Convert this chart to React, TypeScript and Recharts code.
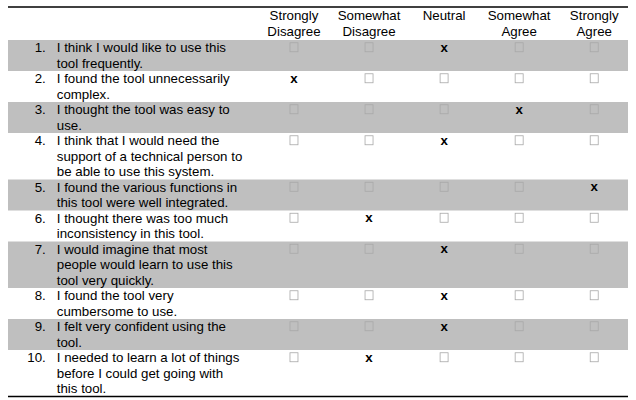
import React from "react";
import { ScatterChart, Scatter, XAxis, YAxis, ReferenceArea, ReferenceLine } from "recharts";

const responses = [["Strongly", "Disagree"], ["Somewhat", "Disagree"], ["Neutral"], ["Somewhat", "Agree"], ["Strongly", "Agree"]];
const questions = [
  ["I think I would like to use this", "tool frequently."],
  ["I found the tool unnecessarily", "complex."],
  ["I thought the tool was easy to", "use."],
  ["I think that I would need the", "support of a technical person to", "be able to use this system."],
  ["I found the various functions in", "this tool were well integrated."],
  ["I thought there was too much", "inconsistency in this tool."],
  ["I would imagine that most", "people would learn to use this", "tool very quickly."],
  ["I found the tool very", "cumbersome to use."],
  ["I felt very confident using the", "tool."],
  ["I needed to learn a lot of things", "before I could get going with", "this tool."],
];
const answers = [2, 0, 3, 2, 4, 1, 2, 2, 2, 1];

const starts: number[] = [];
let acc = 0;
questions.forEach((q) => { starts.push(acc); acc += q.length; });
const totalLines = acc;

const X_MIN = -3.81, X_MAX = 4.45, Y_MIN = -2.13;
const FONT = "'Liberation Sans', Arial, sans-serif";
const FS = 13.3;
const LH = 15.5;

const marks = questions.flatMap((_, qi) => responses.map((_, ci) => ({ x: ci, y: starts[qi] + 0.5, checked: answers[qi] === ci })));
const qData = questions.map((lines, qi) => ({ x: -3.307, y: starts[qi], lines, num: `${qi + 1}.` }));
const hData = responses.map((lines, ci) => ({ x: ci, y: Y_MIN, lines }));

const MarkShape = (p: any) => p.payload.checked
  ? <text x={p.cx} y={p.cy + 4} textAnchor="middle" fontFamily={FONT} fontSize={FS} fontWeight="bold" fill="#000">x</text>
  : <rect x={p.cx - 4} y={p.cy - 5} width={8} height={9} fill="none" stroke="#a8a8a8" strokeWidth={0.8} />;

const QShape = (p: any) => (
  <g fontFamily={FONT} fontSize={FS} fill="#000">
    <text x={p.cx} y={p.cy + 12} textAnchor="end">{p.payload.num}</text>
    <text x={p.cx + 11} y={p.cy + 12}>
      {p.payload.lines.map((l: string, i: number) => <tspan key={i} x={p.cx + 11} y={p.cy + 12 + i * LH}>{l}</tspan>)}
    </text>
  </g>
);

const HShape = (p: any) => (
  <text fontFamily={FONT} fontSize={FS} fill="#000" textAnchor="middle">
    {p.payload.lines.map((l: string, i: number) => <tspan key={i} x={p.cx} y={p.cy + 13 + i * LH}>{l}</tspan>)}
  </text>
);

export default function App() {
  return (
    <div style={{ position: "absolute", left: 0, top: 0, background: "#fff" }}>
      <ScatterChart width={636} height={400} margin={{ top: 7, right: 8, bottom: 3.5, left: 8 }}>
        <XAxis type="number" dataKey="x" domain={[X_MIN, X_MAX]} hide />
        <YAxis type="number" dataKey="y" domain={[Y_MIN, totalLines]} reversed hide />
        {questions.map((q, qi) => qi % 2 === 0 ? (
          <ReferenceArea key={qi} x1={X_MIN} x2={X_MAX} y1={starts[qi]} y2={starts[qi] + q.length} fill="#bfbfbf" fillOpacity={1} stroke="none" />
        ) : null)}
        <ReferenceLine y={Y_MIN} stroke="#000" strokeWidth={1.5} />
        <ReferenceLine y={totalLines} stroke="#000" strokeWidth={1.5} />
        <Scatter data={hData} shape={HShape} isAnimationActive={false} />
        <Scatter data={qData} shape={QShape} isAnimationActive={false} />
        <Scatter data={marks} shape={MarkShape} isAnimationActive={false} />
      </ScatterChart>
    </div>
  );
}
